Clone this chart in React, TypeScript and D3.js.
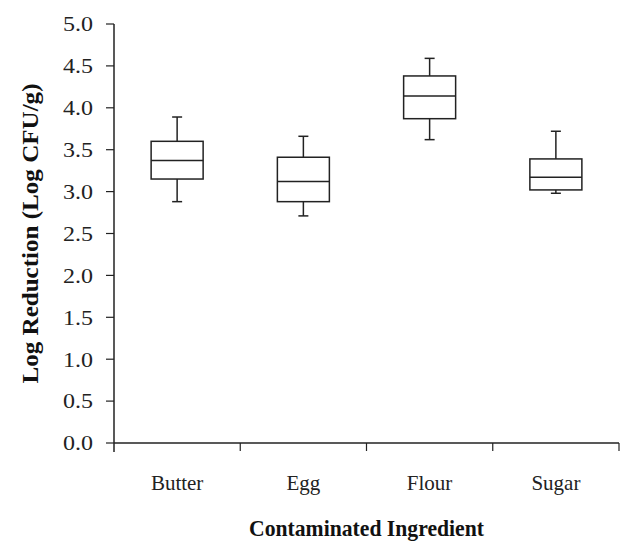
import React from 'react';
import * as d3 from 'd3';

const categories = ['Butter', 'Egg', 'Flour', 'Sugar'];
const whiskerLow = [2.88, 2.71, 3.62, 2.98];
const q1 = [3.15, 2.88, 3.87, 3.02];
const medians = [3.37, 3.12, 4.14, 3.17];
const q3 = [3.60, 3.41, 4.38, 3.39];
const whiskerHigh = [3.89, 3.66, 4.59, 3.72];
const yTicks = [0, 0.5, 1, 1.5, 2, 2.5, 3, 3.5, 4, 4.5, 5];

const W = 629;
const H = 542;
const margin = { top: 24, right: 10, bottom: 99, left: 114 };
const font = '"Liberation Serif", "Times New Roman", serif';

const App = () => {
    const x = d3.scaleBand<string>()
        .domain(categories)
        .range([margin.left, W - margin.right]);

    const y = d3.scaleLinear()
        .domain([0, 5])
        .range([H - margin.bottom, margin.top]);

    const boxW = 52;
    const capW = 10;
    const stroke = '#222';

    const boxes = categories.map((c, i) => ({
        name: c,
        lo: whiskerLow[i],
        q1: q1[i],
        med: medians[i],
        q3: q3[i],
        hi: whiskerHigh[i],
    }));

    const x0 = margin.left;
    const y0 = y(0);
    const boundaries = [...categories.map(c => x(c)!), x.range()[1]];

    return (
        <svg width={W} height={H} style={{ position: 'absolute', left: 0, top: 0, background: '#fff' }}>
            {/* y axis */}
            <line x1={x0} x2={x0} y1={y(5)} y2={y0 + 9} stroke={stroke} strokeWidth={1.5} />
            {yTicks.map(t => (
                <g key={t}>
                    <line x1={x0 - 8} x2={x0} y1={y(t)} y2={y(t)} stroke={stroke} strokeWidth={1.2} />
                    <text x={x0 - 21} y={y(t)} dy="0.35em" textAnchor="end"
                        textLength={30} lengthAdjust="spacingAndGlyphs"
                        fontFamily={font} fontSize={21} fill="#222">{t.toFixed(1)}</text>
                </g>
            ))}

            {/* x axis */}
            <line x1={x0} x2={x.range()[1]} y1={y0} y2={y0} stroke={stroke} strokeWidth={1.5} />
            {boundaries.slice(1).map((bx, i) => (
                <line key={i} x1={bx} x2={bx} y1={y0} y2={y0 + 8} stroke={stroke} strokeWidth={1.2} />
            ))}
            {categories.map(c => (
                <text key={c} x={x(c)! + x.bandwidth() / 2} y={483} dy="0.35em" textAnchor="middle"
                    fontFamily={font} fontSize={21} fill="#222">{c}</text>
            ))}

            {/* boxes */}
            {boxes.map(b => {
                const cx = x(b.name)! + x.bandwidth() / 2;
                return (
                    <g key={b.name} stroke={stroke} strokeWidth={1.5} fill="none">
                        <line x1={cx} x2={cx} y1={y(b.hi)} y2={y(b.q3)} />
                        <line x1={cx} x2={cx} y1={y(b.q1)} y2={y(b.lo)} />
                        <line x1={cx - capW / 2} x2={cx + capW / 2} y1={y(b.hi)} y2={y(b.hi)} />
                        <line x1={cx - capW / 2} x2={cx + capW / 2} y1={y(b.lo)} y2={y(b.lo)} />
                        <rect x={cx - boxW / 2} y={y(b.q3)} width={boxW} height={y(b.q1) - y(b.q3)} fill="#fff" />
                        <line x1={cx - boxW / 2} x2={cx + boxW / 2} y1={y(b.med)} y2={y(b.med)} />
                    </g>
                );
            })}

            {/* axis titles */}
            <text x={(x0 + x.range()[1]) / 2} y={528} dy="0.35em" textAnchor="middle"
                textLength={235} lengthAdjust="spacingAndGlyphs"
                fontFamily={font} fontSize={23} fontWeight="bold" fill="#111">Contaminated Ingredient</text>
            <text transform={`translate(30,${(y(5) + y0) / 2}) rotate(-90)`} dy="0.35em" textAnchor="middle"
                textLength={300} lengthAdjust="spacingAndGlyphs"
                fontFamily={font} fontSize={23} fontWeight="bold" fill="#111">Log Reduction (Log CFU/g)</text>
        </svg>
    );
};

export default App;
